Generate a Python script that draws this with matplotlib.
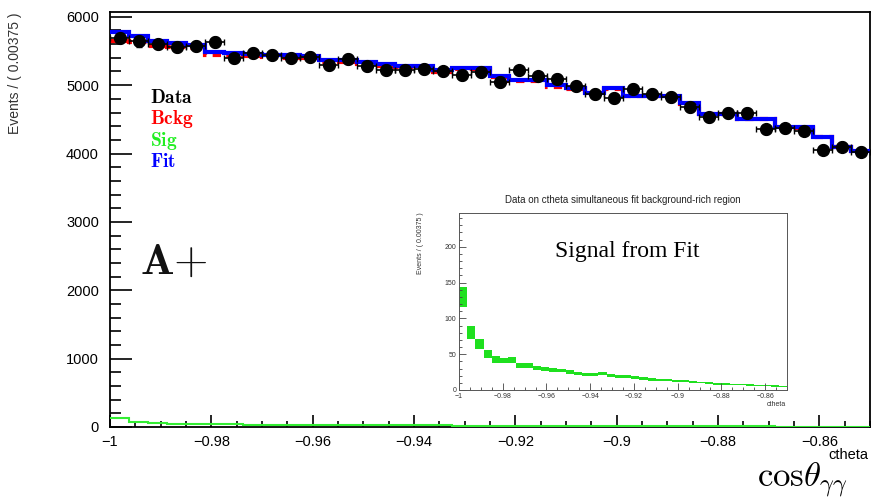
import numpy as np
import matplotlib
matplotlib.use("Agg")
import matplotlib.pyplot as plt
from matplotlib.ticker import MultipleLocator

plt.rcParams['font.family'] = ['Liberation Sans', 'DejaVu Sans']
plt.rcParams['mathtext.fontset'] = 'cm'
plt.rcParams['axes.unicode_minus'] = True

# 40 bins of width 0.00375 in ctheta
edges = np.linspace(-1.0, -0.85, 41)
centers = 0.5 * (edges[:-1] + edges[1:])
half_bin = 0.00375 / 2

data = [5688, 5639, 5601, 5557, 5576, 5630, 5396, 5469, 5444, 5396,
        5405, 5298, 5386, 5273, 5220, 5220, 5235, 5200, 5151, 5191,
        5045, 5215, 5127, 5088, 4990, 4873, 4810, 4942, 4873, 4825,
        4678, 4532, 4591, 4591, 4357, 4371, 4332, 4054, 4102, 4029]
fit = [5776, 5712, 5639, 5615, 5590, 5484, 5469, 5459, 5444, 5434,
       5430, 5361, 5371, 5332, 5308, 5283, 5273, 5215, 5249, 5249,
       5140, 5078, 5070, 4995, 4957, 4883, 4957, 4848, 4848, 4848,
       4740, 4581, 4581, 4508, 4508, 4381, 4381, 4249, 4102, 4039]
bckg = [5646, 5632, 5575, 5565, 5547, 5443, 5427, 5425, 5410, 5403,
        5401, 5333, 5344, 5307, 5285, 5261, 5251, 5192, 5229, 5230,
        5122, 5061, 5054, 4980, 4943, 4870, 4944, 4836, 4837, 4838,
        4730, 4572, 4573, 4500, 4501, 4374, 4375, 4243, 4097, 4034]
sig = [130, 80, 64, 50, 43, 41, 42, 34, 34, 31,
       29, 28, 27, 25, 23, 22, 22, 23, 20, 19,
       18.5, 17, 16, 15, 14, 13.5, 13, 12, 11, 10.5,
       9.5, 8.7, 8.4, 8, 7.5, 7, 6.5, 6, 5.5, 5]
sig_err = [14, 9, 6.5, 5.5, 5, 4, 4, 3.5, 3.5, 3,
           3, 2.5, 2.5, 2.5, 2.5, 2.3, 2.3, 2.3, 2.2, 2.1,
           2, 2, 1.9, 1.8, 1.7, 1.6, 1.5, 1.4, 1.4, 1.3,
           1.2, 1.2, 1.1, 1.0, 1.0, 0.9, 0.9, 0.9, 0.8, 0.8]

tick_pos = [-1, -0.98, -0.96, -0.94, -0.92, -0.9, -0.88, -0.86]
tick_lab = ['\u22121', '\u22120.98', '\u22120.96', '\u22120.94',
            '\u22120.92', '\u22120.9', '\u22120.88', '\u22120.86']

W, H = 872, 500
fig = plt.figure(figsize=(W / 100, H / 100), dpi=100)
ax = fig.add_axes([110 / W, 1 - 427 / H, 760 / W, 415 / H])

ax.stairs(bckg, edges, baseline=None, color='#ff0000', lw=3, ls=(0, (2, 1.5)), zorder=2)
ax.stairs(fit, edges, baseline=None, color='#0000ff', lw=3, zorder=3)
ax.stairs(sig, edges, baseline=None, color='#33ee33', lw=1.5, zorder=3)
ax.errorbar(centers, data, yerr=np.sqrt(data), xerr=half_bin, fmt='o',
            color='black', ms=8.5, elinewidth=1.2, capsize=2.5, zorder=5)

ax.set_xlim(-1.0, -0.85)
ax.set_ylim(0, 6070)
ax.xaxis.set_minor_locator(MultipleLocator(0.005))
ax.yaxis.set_major_locator(MultipleLocator(1000))
ax.yaxis.set_minor_locator(MultipleLocator(200))
ax.set_xticks(tick_pos)
ax.set_xticklabels(tick_lab)
ax.tick_params(axis='x', which='major', direction='in', length=9, width=1.2,
               labelsize=10.5, pad=6)
ax.tick_params(axis='x', which='minor', direction='in', length=4.5, width=1.2)
ax.tick_params(axis='y', which='major', direction='in', length=16, width=1.2,
               labelsize=10.5, pad=8)
ax.tick_params(axis='y', which='minor', direction='in', length=8, width=1.2)
for s in ax.spines.values():
    s.set_linewidth(1.3)

fig.text(15 / W, 1 - 12 / H, 'Events / ( 0.00375 )', rotation=90,
         ha='center', va='top', fontsize=10, color='#333333')
fig.text(868 / W, 1 - 455 / H, 'ctheta', ha='right', va='center', fontsize=10.5)
fig.text(802 / W, 1 - 487 / H, r'$\mathrm{cos}\theta_{\gamma\gamma}$', ha='center',
         va='baseline', fontsize=25)

labels = [('Data', 'black'), ('Bckg', '#ff0000'), ('Sig', '#22ee22'), ('Fit', '#0000ff')]
for i, (lab, col) in enumerate(labels):
    fig.text(150 / W, 1 - (98 + 21.3 * i) / H, r'$\mathbf{%s}$' % lab, color=col,
             ha='left', va='center', fontsize=14)
fig.text(140 / W, 1 - 274 / H, r'$\mathbf{A}{+}$', ha='left', va='baseline',
         fontsize=32, color='#111111')

# inset: signal component from the fit
ax_in = fig.add_axes([459 / W, 1 - 390 / H, 328 / W, 177 / H])
ax_in.bar(centers, 2 * np.array(sig_err), bottom=np.array(sig) - np.array(sig_err),
          width=0.00375, color='#1fe01f', edgecolor='none')
ax_in.set_xlim(-1.0, -0.85)
ax_in.set_ylim(0, 247)
ax_in.xaxis.set_minor_locator(MultipleLocator(0.005))
ax_in.yaxis.set_major_locator(MultipleLocator(50))
ax_in.yaxis.set_minor_locator(MultipleLocator(10))
ax_in.set_xticks(tick_pos)
ax_in.set_xticklabels(tick_lab)
ax_in.tick_params(axis='both', which='major', direction='in', length=5, width=0.6,
                  labelsize=5, pad=2, color='#444444', labelcolor='#333333')
ax_in.tick_params(axis='both', which='minor', direction='in', length=2.5, width=0.6,
                  color='#444444')
for s in ax_in.spines.values():
    s.set_linewidth(0.7)
    s.set_color('#555555')
ax_in.set_title('Data on ctheta simultaneous fit background-rich region',
                fontsize=7, pad=7, color='#222222')
fig.text(420 / W, 1 - 212 / H, 'Events / ( 0.00375 )', rotation=90,
         ha='center', va='top', fontsize=5, color='#333333')
fig.text(786 / W, 1 - 404 / H, 'ctheta', ha='right', va='center', fontsize=5,
         color='#333333')
fig.text(627 / W, 1 - 252 / H, 'Signal from Fit', ha='center', va='center',
         fontsize=17, family='Liberation Serif')

fig.savefig('out.png', dpi=100)
